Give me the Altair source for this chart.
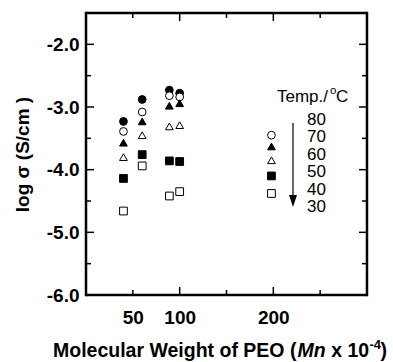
import altair as alt
import pandas as pd

# Molecular weight of PEO (Mn x 10^-4)
mn = [40, 60, 89, 100, 198]
temps = ["80", "70", "60", "50", "40", "30"]
# log sigma (S/cm) per temperature, one value per Mn (None = not shown)
t80 = [-3.23, -2.88, -2.73, -2.78, None]
t70 = [-3.39, -3.08, -2.82, -2.84, -3.45]
t60 = [-3.57, -3.23, -2.98, -2.94, -3.63]
t50 = [-3.80, -3.45, -3.31, -3.29, -3.85]
t40 = [-4.14, -3.76, -3.86, -3.87, -4.10]
t30 = [-4.66, -3.94, -4.42, -4.35, -4.38]

x_major = [100, 200]
x_minor = [50, 150, 250]
y_major = [-5, -4, -3, -2]
y_minor = [-5.5, -4.5, -3.5, -2.5]

series = dict(zip(temps, [t80, t70, t60, t50, t40, t30]))
rows = []
for t in temps:
    for m, v in zip(mn, series[t]):
        if v is not None:
            rows.append({"mn": m, "logs": v, "temp": t})
df = pd.DataFrame(rows)

W, H = 281, 282
FONT = "Liberation Sans"

xscale = alt.Scale(domain=[0, 300], nice=False, zero=False)
yscale = alt.Scale(domain=[-6, -1.5], nice=False, zero=False)

xaxis = alt.Axis(values=[50, 100, 200], title=None, domain=False, ticks=False, tickSize=0,
                 grid=False, labelFont=FONT, labelFontSize=19, labelFontWeight="bold",
                 labelPadding=13, labelColor="black")
yaxis = alt.Axis(values=[-6, -5, -4, -3, -2], title="log σ (S/cm )", domain=False, ticks=False,
                 tickSize=0, grid=False, labelFont=FONT, labelFontSize=19, labelFontWeight="bold",
                 labelPadding=7, labelColor="black",
                 labelExpr="datum.value == 0 ? '0.0' : '-' + format(abs(datum.value), '.1f')",
                 titleFont=FONT, titleFontSize=19, titleFontWeight="bold", titleColor="black",
                 titlePadding=14)

X = alt.X("mn:Q", scale=xscale, axis=xaxis)
Y = alt.Y("logs:Q", scale=yscale, axis=yaxis)

points = alt.Chart(df).mark_point(stroke="black", strokeWidth=1, opacity=1, fillOpacity=1).encode(
    x=X, y=Y,
    shape=alt.Shape("temp:N", scale=alt.Scale(domain=temps,
                    range=["circle", "circle", "triangle-up", "triangle-up", "square", "square"]),
                    legend=None),
    fill=alt.Fill("temp:N", scale=alt.Scale(domain=temps,
                  range=["black", "white", "black", "white", "black", "white"]), legend=None),
    size=alt.Size("temp:N", scale=alt.Scale(domain=temps, range=[60, 60, 85, 85, 60, 60]),
                  legend=None),
    order=alt.Order("idx:Q"),
).transform_calculate(idx="indexof(['80','70','60','50','40','30'], datum.temp)")

def xt(vals, length):
    d = pd.DataFrame({"mn": vals})
    bot = alt.Chart(d).mark_rule(color="black", strokeWidth=1.5).encode(
        x=X, y=alt.value(H), y2=alt.value(H - length))
    top = alt.Chart(d).mark_rule(color="black", strokeWidth=1.5).encode(
        x=X, y=alt.value(0), y2=alt.value(length))
    return [bot, top]

def yt(vals, length):
    d = pd.DataFrame({"logs": vals})
    left = alt.Chart(d).mark_rule(color="black", strokeWidth=1.5).encode(
        y=Y, x=alt.value(0), x2=alt.value(length))
    right = alt.Chart(d).mark_rule(color="black", strokeWidth=1.5).encode(
        y=Y, x=alt.value(W), x2=alt.value(W - length))
    return [left, right]

ticks = xt(x_major, 8) + xt(x_minor, 5) + yt(y_major, 8) + yt(y_minor, 5)

# plot frame
frame_pts = pd.DataFrame({"a": [0]})
frame = [
    alt.Chart(frame_pts).mark_rule(color="black", strokeWidth=2.5).encode(
        x=alt.value(0), x2=alt.value(W), y=alt.value(0)),
    alt.Chart(frame_pts).mark_rule(color="black", strokeWidth=2.5).encode(
        x=alt.value(0), x2=alt.value(W), y=alt.value(H)),
    alt.Chart(frame_pts).mark_rule(color="black", strokeWidth=2.5).encode(
        y=alt.value(-1.2), y2=alt.value(H + 1.2), x=alt.value(0)),
    alt.Chart(frame_pts).mark_rule(color="black", strokeWidth=2.5).encode(
        y=alt.value(-1.2), y2=alt.value(H + 1.2), x=alt.value(W)),
]

# x-axis title built from pieces (italic Mn, superscript -4)
def txt(s, x, y, size=19.5, weight="bold", style="normal", align="left"):
    return alt.Chart(pd.DataFrame({"t": [s]})).mark_text(
        font=FONT, fontSize=size, fontWeight=weight, fontStyle=style, align=align,
        baseline="alphabetic", color="black").encode(
        text="t:N", x=alt.value(x), y=alt.value(y))

x0 = -33
title_parts = [
    txt("Molecular Weight of PEO (", x0, 344),
    txt("Mn", x0 + 244.5, 344, style="italic"),
    txt("x 10", x0 + 278.2, 344),
    txt("-4", x0 + 316.4, 336, size=13),
    txt(")", x0 + 327.5, 344),
]

# temperature legend
legend_parts = [
    txt("Temp./", 191, 89, size=17, weight="normal"),
    txt("o", 244, 81, size=11.5, weight="normal"),
    txt("C", 250, 89, size=17, weight="normal"),
]
for i, t in enumerate(temps):
    legend_parts.append(
        alt.Chart(pd.DataFrame({"t": [t]})).mark_text(
            font=FONT, fontSize=17, align="left", baseline="middle", color="black").encode(
            text="t:N", x=alt.value(221), y=alt.value(107 + 17.4 * i)))

arrow_line = alt.Chart(pd.DataFrame({"a": [0]})).mark_rule(color="black", strokeWidth=1.2).encode(
    x=alt.value(207), y=alt.value(110), y2=alt.value(186))
arrow_head = alt.Chart(pd.DataFrame({"a": [0]})).mark_point(
    shape="M-0.667,-1L0.667,-1L0,1Z", filled=True, color="black", size=144, opacity=1).encode(
    x=alt.value(207), y=alt.value(188))

chart = alt.layer(points, *ticks, *frame, *title_parts, *legend_parts, arrow_line, arrow_head).properties(
    width=W, height=H,
    background="white",
    autosize=alt.AutoSizeParams(type="none"),
    padding={"left": 86, "top": 13, "right": 26, "bottom": 67},
).configure_view(stroke=None)

chart.save("out.html", embed_options={"renderer": "svg", "actions": False})
